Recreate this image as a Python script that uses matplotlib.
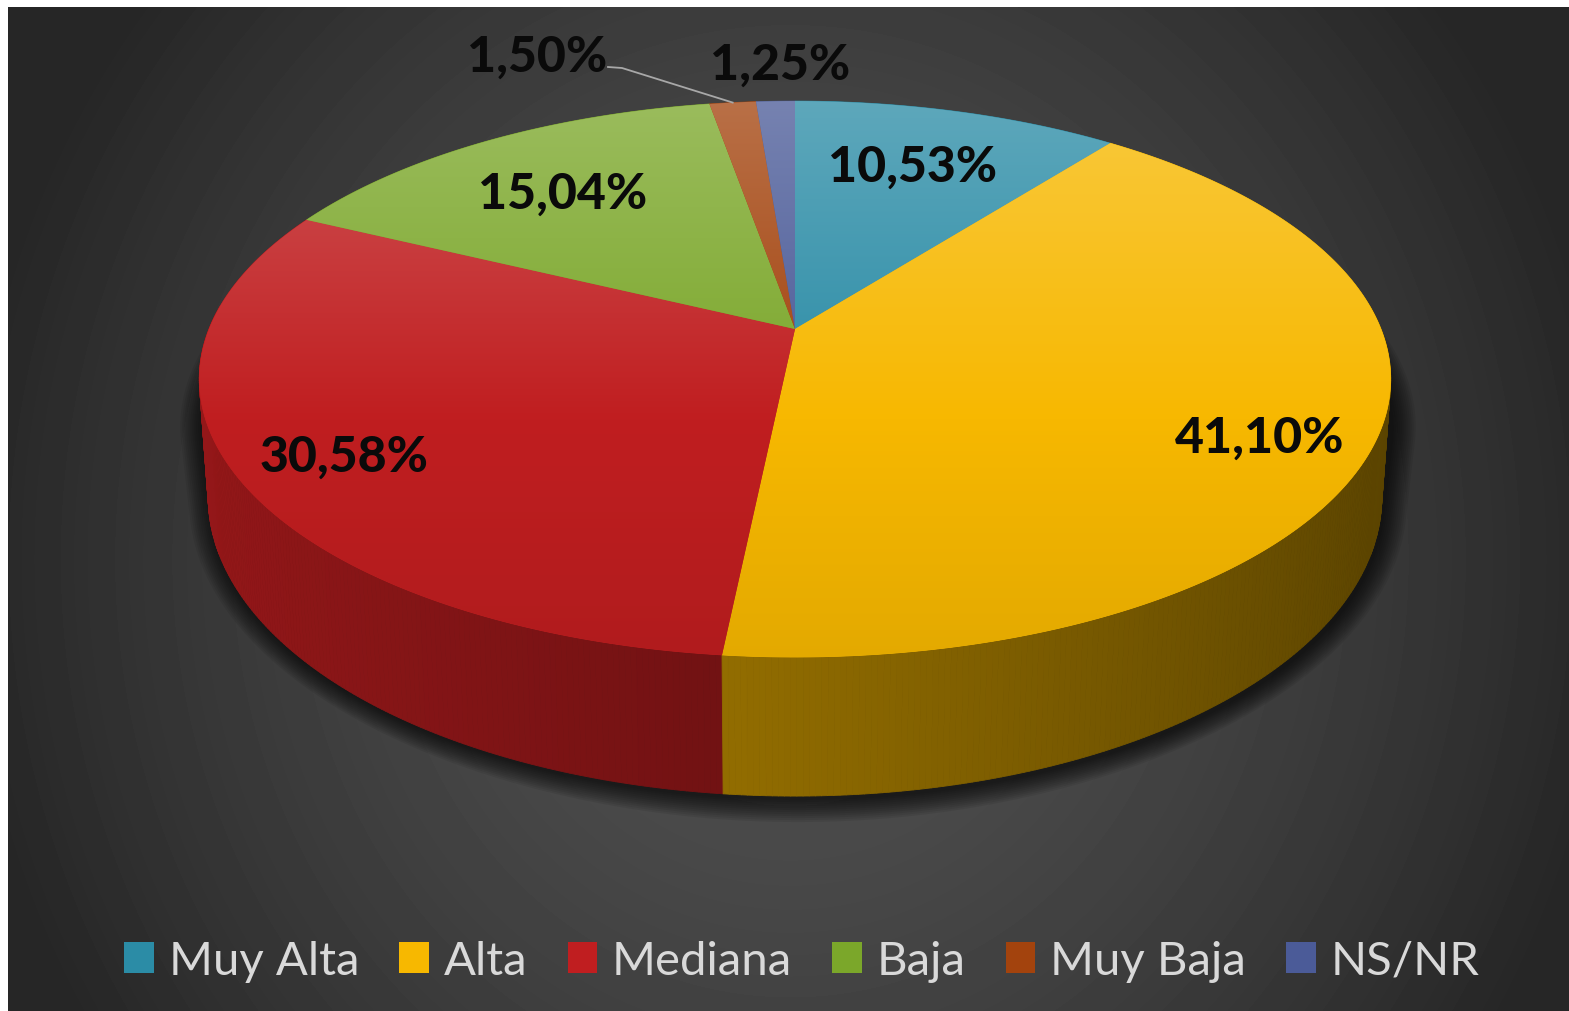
import numpy as np
import matplotlib
matplotlib.use('Agg')
import matplotlib.pyplot as plt
from matplotlib.patches import Polygon, Patch
from matplotlib.collections import PolyCollection
from matplotlib.colors import to_rgb

# datos
categorias = ['Muy Alta', 'Alta', 'Mediana', 'Baja', 'Muy Baja', 'NS/NR']
porcentajes = [10.53, 41.10, 30.58, 15.04, 1.50, 1.25]
colores = ['#2b8ca6', '#f7b800', '#c01e20', '#7ba72a', '#a3430d', '#4b5b98']

# posiciones de las etiquetas (pixel, linea base)
pos_etiquetas = [(913, 182), (1260, 453), (344, 472), (563, 209), (537, 72), (780, 80)]

W, H = 1569, 1012
# geometria del pastel 3D (perspectiva simple)
CX, CY = 795, 330
A, B, K = 586, 269, 0.18
DEPTH = 114
SB = 0.985


def top_pt(t_deg, r=1.0):
    t = np.radians(t_deg)
    u, v = r * np.cos(t), r * np.sin(t)
    return CX + A * u / (1 + K * v), CY - B * v / (1 + K * v)


def bot_pt(t_deg):
    x, y = top_pt(t_deg)
    v = np.sin(np.radians(t_deg))
    return CX + (x - CX) * SB, y + DEPTH / (1 + K * v)


def hull(pts):
    pts = sorted(set(pts))
    def cross(o, a, b):
        return (a[0]-o[0])*(b[1]-o[1]) - (a[1]-o[1])*(b[0]-o[0])
    lower, upper = [], []
    for p in pts:
        while len(lower) >= 2 and cross(lower[-2], lower[-1], p) <= 0:
            lower.pop()
        lower.append(p)
    for p in reversed(pts):
        while len(upper) >= 2 and cross(upper[-2], upper[-1], p) <= 0:
            upper.pop()
        upper.append(p)
    return lower[:-1] + upper[:-1]


fig = plt.figure(figsize=(W / 100, H / 100), dpi=100, facecolor='white')
ax = fig.add_axes([0, 0, 1, 1])
ax.axis('off')

# fondo con degradado radial
yy, xx = np.mgrid[8:H, 8:W].astype(float)
r = np.sqrt(((xx - 790) / 830) ** 2 + ((yy - 560) / 900) ** 2)
bg = 80 - 42 * np.clip(r, 0, 1) ** 1.6
ax.imshow(bg, cmap='gray', vmin=0, vmax=255, extent=[8, W, H, 8],
          aspect='auto', interpolation='bilinear', zorder=0)

# sombra (solo bajo la parte inferior)
tt = np.linspace(0, 360, 361)
contorno = [tuple(np.round(np.array(top_pt(t)) + [0, 45], 2)) for t in tt] + \
           [tuple(np.round(bot_pt(t), 2)) for t in tt]
hp = np.array(hull(contorno))
centro = np.array([CX, 470.0])
d = hp - centro
d = d / np.linalg.norm(d, axis=1)[:, None]
for e in np.arange(22, -1, -2):
    sp = hp + d * e + np.array([3, 4])
    ax.add_patch(Polygon(sp, closed=True, facecolor='black', edgecolor='none',
                         alpha=0.07, zorder=1))

cum = np.concatenate([[0], np.cumsum(porcentajes) / np.sum(porcentajes)])

# paredes laterales
quads, cols, orden = [], [], []
for i in range(len(porcentajes)):
    ts, te = 90 - 360 * cum[i], 90 - 360 * cum[i + 1]
    lo, hi = max(te, -185), min(ts, 5)
    if lo >= hi:
        continue
    n = max(2, int((hi - lo) / 0.5) + 1)
    ang = np.linspace(hi, lo, n)
    base = np.array(to_rgb(colores[i]))
    for a0, a1 in zip(ang[:-1], ang[1:]):
        q = [top_pt(a0), top_pt(a1), bot_pt(a1), bot_pt(a0)]
        um = np.cos(np.radians((a0 + a1) / 2))
        vm = np.sin(np.radians((a0 + a1) / 2))
        f = 0.57 - 0.21 * um
        quads.append(q)
        cols.append(np.clip(base * f, 0, 1))
        orden.append(-vm)
idx = np.argsort(orden)
pc = PolyCollection([quads[j] for j in idx], facecolors=[cols[j] for j in idx],
                    edgecolors=[cols[j] for j in idx], linewidths=0.6, zorder=2)
ax.add_collection(pc)

# caras superiores con degradado vertical
ys = np.linspace(98, 664, 300)
for i in range(len(porcentajes)):
    ts, te = 90 - 360 * cum[i], 90 - 360 * cum[i + 1]
    arco = [top_pt(t) for t in np.linspace(ts, te, max(3, int((ts - te) * 2)))]
    pts = [(CX, CY)] + arco
    base = np.array(to_rgb(colores[i]))
    ax.add_patch(Polygon(pts, closed=True, facecolor=base, edgecolor=base,
                         linewidth=0.5, zorder=3))
    img = np.zeros((len(ys), 1, 3))
    for k, y in enumerate(ys):
        if y < 420:
            w = 0.24 * (420 - y) / 320
            img[k, 0] = base + (1 - base) * w
        else:
            img[k, 0] = base * (1 - 0.08 * (y - 420) / 240)
    clip = Polygon(pts, closed=True, transform=ax.transData)
    im = ax.imshow(np.clip(img, 0, 1), extent=[190, 1400, 664, 98], aspect='auto',
                   interpolation='bilinear', zorder=4)
    im.set_clip_path(clip)

# etiquetas
for i, p in enumerate(porcentajes):
    txt = f'{p:.2f}%'.replace('.', ',')
    x, y = pos_etiquetas[i]
    ax.text(x, y, txt, ha='center', va='baseline', fontsize=36, fontweight='black',
            family='Lato', color='#0a0a0a', zorder=6)

# linea guia de "Muy Baja"
mid = 90 - 360 * (cum[4] + cum[5]) / 2
lx, ly = top_pt(mid)
ax.plot([608, 622, lx], [68, 69, ly], color='#a8a8a8', lw=1.3, zorder=5)

ax.set_xlim(0, W)
ax.set_ylim(H, 0)

# leyenda
handles = [Patch(facecolor=c, edgecolor='none') for c in colores]
leg = fig.legend(handles, categorias, loc='center', bbox_to_anchor=(802 / W, 1 - 962 / H),
                 ncol=6, frameon=False, prop={'family': 'Lato', 'size': 34},
                 labelcolor='#d9d9d9', handlelength=0.62, handleheight=0.62,
                 handletextpad=0.32, columnspacing=0.85, borderpad=0)

fig.savefig('out.png', dpi=100, facecolor='white')
